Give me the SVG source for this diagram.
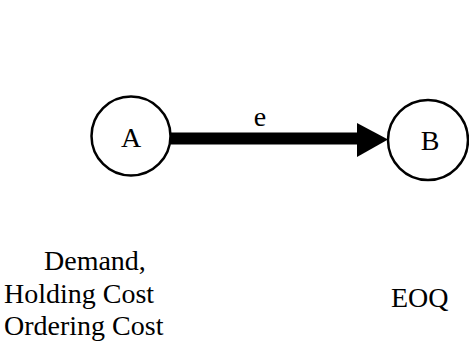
<svg xmlns="http://www.w3.org/2000/svg" width="469" height="350" viewBox="0 0 469 350">
<style>
.node{fill:#fff;stroke:#000;stroke-width:2.5}
.t{font-family:"Liberation Serif","Times New Roman",serif;font-size:28px;fill:#000}
.lbl{font-family:"Liberation Serif","Times New Roman",serif;font-size:28px;fill:#000}
</style>
<rect width="469" height="350" fill="#fff"/>
<g id="connectors">
<line x1="171" y1="138.5" x2="360" y2="138.5" stroke="#000" stroke-width="12"/>
<polygon points="357,123 388,139.5 357,157" fill="#000"/>
<text class="t" x="260" y="126" text-anchor="middle">e</text>
</g>
<g id="node-A">
<circle class="node" cx="131" cy="136" r="39.5"/>
<text class="t" x="131" y="147" text-anchor="middle">A</text>
</g>
<g id="node-B">
<circle class="node" cx="428" cy="140" r="40"/>
<text class="t" x="430" y="150" text-anchor="middle">B</text>
</g>
<g id="label-A">
<text class="lbl" x="44" y="270">Demand,</text>
<text class="lbl" x="4" y="303">Holding Cost</text>
<text class="lbl" x="4" y="335">Ordering Cost</text>
</g>
<g id="label-B">
<text class="lbl" x="391" y="307">EOQ</text>
</g>
</svg>
